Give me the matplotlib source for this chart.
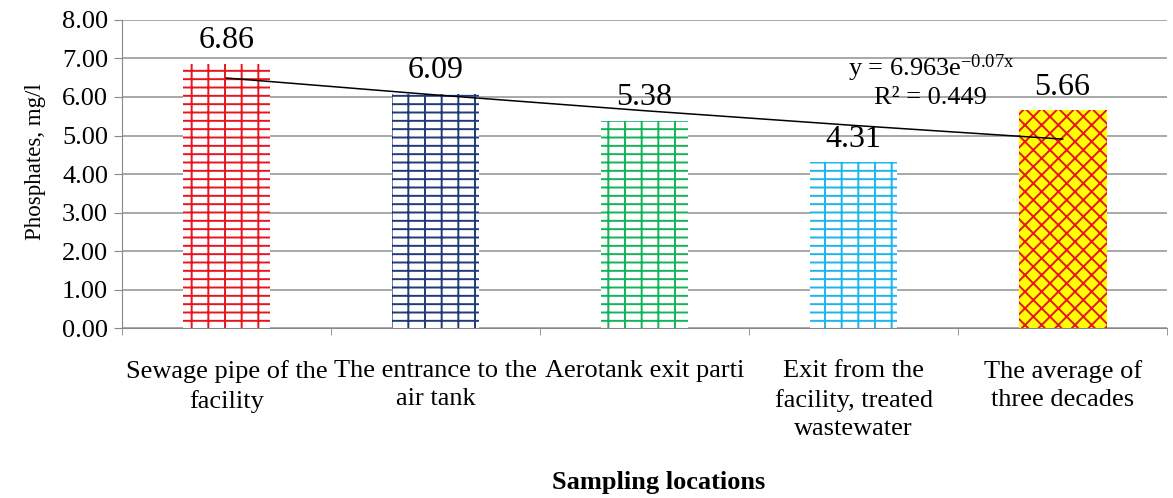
import numpy as np
import matplotlib
matplotlib.use('Agg')
import matplotlib.pyplot as plt

categories = ['Sewage pipe of the\nfacility', 'The entrance to the\nair tank',
              'Aerotank exit parti', 'Exit from the\nfacility, treated\nwastewater',
              'The average of\nthree decades']
values = [6.86, 6.09, 5.38, 4.31, 5.66]
colors = ['#E8141E', '#1F3B7A', '#12B35A', '#1EB4EE', '#E8141E']
faces = ['white', 'white', 'white', 'white', '#FFFF00']
hatches = ['--|', '--|', '--|', '--|', 'xx']
yticks = [0, 1, 2, 3, 4, 5, 6, 7, 8]
# exponential trendline as reported on the chart
trend_a = 6.963
trend_b = -0.07
trend_r2 = 0.449

plt.rcParams['font.family'] = ['Liberation Serif', 'DejaVu Serif']
plt.rcParams['mathtext.fontset'] = 'custom'
plt.rcParams['mathtext.rm'] = 'Liberation Serif'
plt.rcParams['mathtext.it'] = 'Liberation Serif'
plt.rcParams['hatch.linewidth'] = 1.4

fig = plt.figure(figsize=(11.73, 4.98), dpi=100)
ax = fig.add_axes([0.104, 0.341, 0.891, 0.619])

x = np.arange(len(values))
for i in range(len(values)):
    ax.bar(x[i], values[i], width=0.42, color=faces[i], edgecolor=colors[i],
           hatch=hatches[i], linewidth=0, zorder=2)
    ax.text(x[i], values[i] + 0.22, '%.2f' % values[i], ha='center', va='bottom',
            fontsize=23, zorder=4)

xs = np.arange(1, len(values) + 1)
ax.plot(x, trend_a * np.exp(trend_b * xs), color='black', linewidth=1.1, zorder=3)
ax.text(3.37, 6.75, 'y = %.3fe$^{\\mathrm{%.2fx}}$' % (trend_a, trend_b), ha='center',
        va='center', fontsize=19, zorder=4)
ax.text(3.37, 5.97, 'R² = %.3f' % trend_r2, ha='center', va='center', fontsize=19, zorder=4)

ax.set_xlim(-0.5, len(values) - 0.5)
ax.set_ylim(0, 8)
ax.set_yticks(yticks)
ax.set_yticklabels(['%.2f' % v for v in yticks], fontsize=19)
ax.set_xticks(x)
ax.set_xticklabels(categories, fontsize=19, va='top', linespacing=1.37)
ax.set_xticks(np.arange(-0.5, len(values)), minor=True)
ax.tick_params(axis='x', which='major', length=0, pad=23)
ax.tick_params(axis='x', which='minor', length=5, color='#888888')
ax.tick_params(axis='y', length=6, color='#888888', pad=4)
ax.grid(axis='y', color='#999999', linewidth=1.2, zorder=0)
ax.set_axisbelow(True)
for s in ['top', 'right']:
    ax.spines[s].set_visible(False)
ax.spines['left'].set_color('#888888')
ax.spines['bottom'].set_color('#888888')
ax.set_ylabel('Phosphates, mg/l', fontsize=16.5)
ax.yaxis.set_label_coords(-0.073, 0.539)
ax.set_xlabel('Sampling locations', fontsize=19, fontweight='bold', labelpad=22, x=0.513)

fig.savefig('out.png', dpi=100)
